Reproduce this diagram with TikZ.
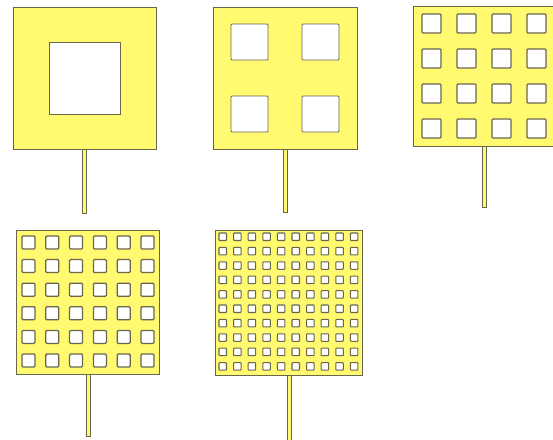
\documentclass[tikz,border=0pt]{standalone}
\definecolor{patchyellow}{RGB}{255,250,112}
\definecolor{patchedge}{RGB}{105,102,78}
\begin{document}
\begin{tikzpicture}[x=0.5mm, y=-0.5mm,
  patch/.style={fill=patchyellow, draw=patchedge, line width=1.1pt},
  hole/.style={fill=white, draw=patchedge, line width=1.8pt, rounded corners=1.5pt},
  feed/.style={fill=patchyellow, draw=patchedge, line width=0.9pt}]
\useasboundingbox (0,0) rectangle (553,439);
\clip (0,0) rectangle (553,439);
% 1x1 slot
\draw[feed] (82,149) rectangle (86,213);
\draw[patch] (13,7) rectangle (156,149);
\draw[hole, line width=1.3pt, rounded corners=0pt] (49,42) rectangle (120,114);

% 2x2 slots
\draw[feed] (283,149) rectangle (287,212);
\draw[patch] (213,7) rectangle (357,149);
\foreach \i in {0,1}
  \foreach \j in {0,1}
    \draw[hole, line width=1.3pt] (231+71*\i,24+72*\j) rectangle ++(37,36);

% 4x4 slots
\draw[feed] (482,146) rectangle (486,207);
\draw[patch] (413,6) rectangle (556,146);
\foreach \i in {0,...,3}
  \foreach \j in {0,...,3}
    \draw[hole] (422+35*\i,14+35*\j) rectangle ++(19,19);

% 6x6 slots
\draw[feed] (86,374) rectangle (90,436);
\draw[patch] (16,230) rectangle (159,374);
\foreach \i in {0,...,5}
  \foreach \j in {0,...,5}
    \draw[hole] (22+23.8*\i,236+23.6*\j) rectangle ++(13,13);

% 10x10 slots
\draw[feed] (287,375) rectangle (291,445);
\draw[patch] (215,230) rectangle (362,375);
\foreach \i in {0,...,9}
  \foreach \j in {0,...,9}
    \draw[hole, line width=1.5pt, rounded corners=1pt] (219+14.6*\i,233+14.4*\j) rectangle ++(7.5,7.5);
\end{tikzpicture}
\end{document}
